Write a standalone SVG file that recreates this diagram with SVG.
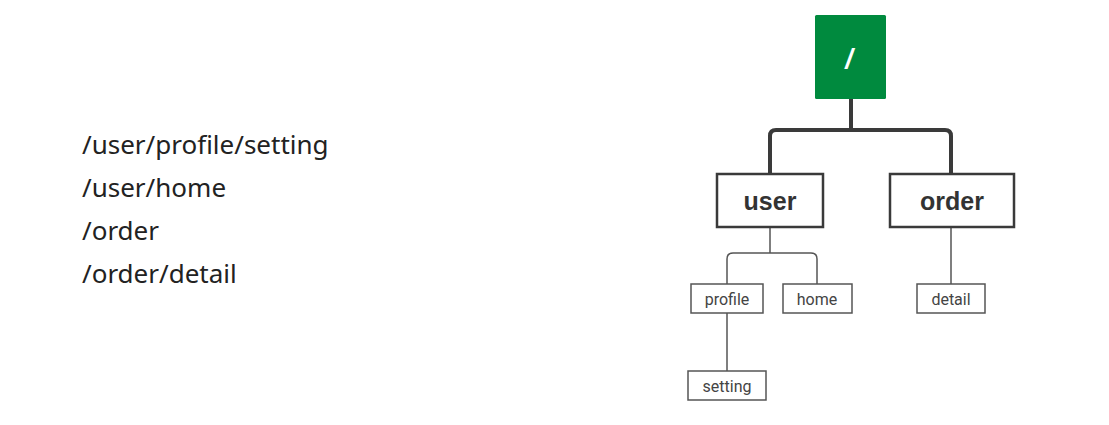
<svg xmlns="http://www.w3.org/2000/svg" width="1109" height="425" viewBox="0 0 1109 425">
  <style>
    .path-text { font-family: "Noto Sans", "Liberation Sans", sans-serif; font-size: 26px; fill: #222; }
    .big { fill: #fff; stroke: #3a3a3a; stroke-width: 2.5; }
    .small { fill: #fff; stroke: #555; stroke-width: 1.5; }
    .big-label { font-family: "Liberation Sans", Arial, sans-serif; font-weight: bold; font-size: 25px; fill: #333; text-anchor: middle; }
    .small-label { font-family: "Roboto", "Liberation Sans", sans-serif; font-size: 16px; fill: #444; text-anchor: middle; }
    .thick { fill: none; stroke: #3a3a3a; stroke-width: 4; }
    .thin { fill: none; stroke: #555; stroke-width: 1.5; }
  </style>
  <rect width="1109" height="425" fill="#fff"/>

  <g id="paths">
    <text class="path-text" x="82" y="154">/user/profile/setting</text>
    <text class="path-text" x="82" y="197">/user/home</text>
    <text class="path-text" x="82" y="240">/order</text>
    <text class="path-text" x="82" y="283">/order/detail</text>
  </g>

  <g id="connectors">
    <line class="thick" x1="851" y1="99" x2="851" y2="130"/>
    <path class="thick" d="M770,174 V136 Q770,130 776,130 H945 Q951,130 951,136 V174"/>
    <line class="thin" x1="770" y1="227" x2="770" y2="253"/>
    <path class="thin" d="M727,284 V259 Q727,253 733,253 H811 Q817,253 817,259 V284"/>
    <line class="thin" x1="951" y1="227" x2="951" y2="284"/>
    <line class="thin" x1="727" y1="313" x2="727" y2="371"/>
  </g>

  <g id="node-root">
    <rect x="815" y="15" width="71" height="84" rx="1.5" fill="#008a3e"/>
    <text x="849" y="68" font-family="Liberation Sans, Arial, sans-serif" font-size="27" font-weight="bold" font-style="italic" fill="#fff" text-anchor="middle">/</text>
  </g>
  <g id="node-user">
    <rect class="big" x="717" y="174" width="106" height="53"/>
    <text class="big-label" x="770" y="210">user</text>
  </g>
  <g id="node-order">
    <rect class="big" x="890" y="174" width="124" height="53"/>
    <text class="big-label" x="952" y="210">order</text>
  </g>
  <g id="node-profile">
    <rect class="small" x="691" y="284" width="72" height="29"/>
    <text class="small-label" x="727" y="305">profile</text>
  </g>
  <g id="node-home">
    <rect class="small" x="783" y="284" width="69" height="29"/>
    <text class="small-label" x="817" y="305">home</text>
  </g>
  <g id="node-detail">
    <rect class="small" x="917" y="284" width="68" height="29"/>
    <text class="small-label" x="951" y="305">detail</text>
  </g>
  <g id="node-setting">
    <rect class="small" x="688" y="371" width="78" height="29"/>
    <text class="small-label" x="727" y="392">setting</text>
  </g>
</svg>
